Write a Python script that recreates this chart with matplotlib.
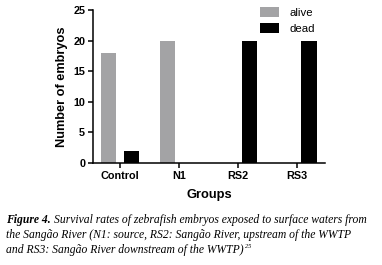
import matplotlib
matplotlib.use("Agg")
import matplotlib.pyplot as plt
import numpy as np

groups = ["Control", "N1", "RS2", "RS3"]
alive = [18, 20, 0, 0]
dead = [2, 0, 20, 20]
series_labels = ["alive", "dead"]
yticks = [0, 5, 10, 15, 20, 25]

plt.rcParams['font.family'] = ['Liberation Sans', 'DejaVu Sans']

fig = plt.figure(figsize=(3.82, 2.65), dpi=100)
ax = fig.add_axes([0.243, 0.385, 0.608, 0.577])

x = np.arange(len(groups))
w = 0.26
off = 0.195
ax.bar(x - off, alive, w, color="#a3a3a5", label=series_labels[0])
ax.bar(x + off, dead, w, color="#000000", label=series_labels[1])

ax.set_xlim(-0.46, 3.47)
ax.set_ylim(0, 25)
ax.set_yticks(yticks)
ax.set_xticks(x)
ax.set_xticklabels(groups, fontsize=7.8, fontweight='bold')
for t in ax.get_yticklabels():
    t.set_fontsize(7.8)
    t.set_fontweight('bold')
ax.set_xlabel("Groups", fontsize=9.3, fontweight='bold', labelpad=6)
ax.set_ylabel("Number of embryos", fontsize=9.2, fontweight='bold', labelpad=4)
for s in ['top', 'right']:
    ax.spines[s].set_visible(False)
for s in ['left', 'bottom']:
    ax.spines[s].set_linewidth(1.1)
ax.tick_params(axis='both', width=1.1, length=3.5, pad=2)

leg = ax.legend(loc='upper right', bbox_to_anchor=(1.0, 1.09), frameon=False,
                fontsize=8.2, handlelength=1.7, handleheight=1.0, labelspacing=0.45,
                handletextpad=0.9)

# caption
cap_fs = 8.4
fig.canvas.draw()
r = fig.canvas.get_renderer()
t0 = fig.text(0.017, 0.158, "Figure 4.", family='Liberation Serif', style='italic',
              fontweight='bold', fontsize=cap_fs, va='baseline')
bb = t0.get_window_extent(r)
fig.text(bb.x1 / fig.bbox.width + 0.008, 0.158,
         "Survival rates of zebrafish embryos exposed to surface waters from",
         family='Liberation Serif', style='italic', fontsize=cap_fs, va='baseline')
fig.text(0.017, 0.101,
         "the Sangão River (N1: source, RS2: Sangão River, upstream of the WWTP",
         family='Liberation Serif', style='italic', fontsize=cap_fs, va='baseline')
t3 = fig.text(0.017, 0.044,
              "and RS3: Sangão River downstream of the WWTP)",
              family='Liberation Serif', style='italic', fontsize=cap_fs, va='baseline')
bb3 = t3.get_window_extent(r)
fig.text(bb3.x1 / fig.bbox.width + 0.002, 0.065, "25",
         family='Liberation Serif', style='italic', fontsize=4.5, va='baseline')

fig.savefig("out.png", dpi=100)
